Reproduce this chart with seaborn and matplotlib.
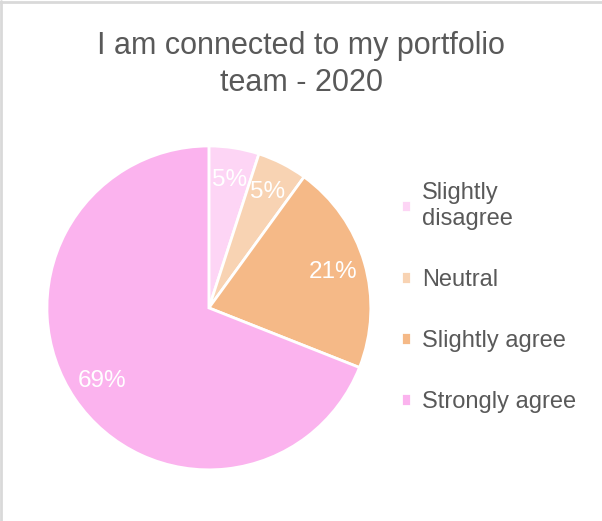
import matplotlib.pyplot as plt
import seaborn as sns
from matplotlib.lines import Line2D

# data
categories = ["Slightly\ndisagree", "Neutral", "Slightly agree", "Strongly agree"]
shares = [5, 5, 21, 69]
colors = ["#FDD5F5", "#F8D3B3", "#F5B987", "#FBB3EE"]

sns.set_theme(style="white")
plt.rcParams["font.family"] = ["Liberation Sans", "DejaVu Sans"]

fig = plt.figure(figsize=(6.02, 5.21), dpi=100)
ax = fig.add_axes([0.078, 0.098, 0.538, 0.622])

wedges, texts, autotexts = ax.pie(
    shares, colors=colors, startangle=90, counterclock=False,
    autopct="%1.0f%%", pctdistance=0.8,
    wedgeprops=dict(edgecolor="white", linewidth=2),
    textprops=dict(color="white", fontsize=17.5),
)
ax.set_xlim(-1, 1)
ax.set_ylim(-1, 1)
ax.set_aspect("equal")

fig.suptitle("I am connected to my portfolio\nteam - 2020", y=0.94, va="top",
             fontsize=22, color="#595959", linespacing=1.3)

fig.legend(wedges, categories, loc="center left",
           bbox_to_anchor=(0.63, 0.429), frameon=False,
           fontsize=17, labelcolor="#595959", labelspacing=1.65,
           handlelength=0.45, handleheight=0.45, handletextpad=0.45)

# light border on the chart area
fig.add_artist(Line2D([0.002, 0.002], [0, 0.998], color="#D9D9D9", lw=2, transform=fig.transFigure))
fig.add_artist(Line2D([0, 1], [0.997, 0.997], color="#D9D9D9", lw=2, transform=fig.transFigure))

fig.savefig("out.png", dpi=100, facecolor="white")
